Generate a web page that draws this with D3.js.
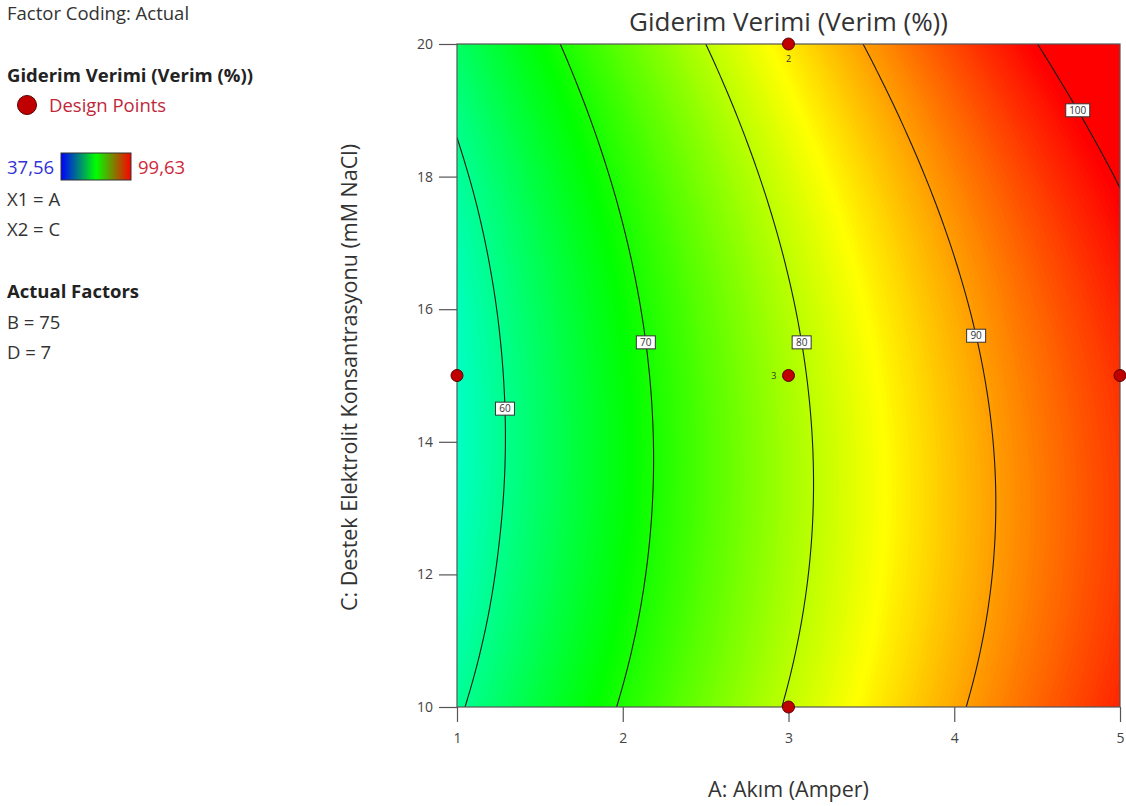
<!DOCTYPE html>
<html><head><meta charset="utf-8">
<script src="https://cdn.jsdelivr.net/npm/d3@7"></script>
<style>
body{margin:0;background:#fff;}
text{font-family:"Open Sans","Noto Sans",sans-serif;}
</style>
</head><body>
<svg id="chart" width="1126" height="806"></svg>
<script>
// ---------------- data ----------------
const aValues = [1, 2, 3, 4, 5];                                   // A: Akım (Amper)
const cValues = [10, 11.25, 12.5, 13.75, 15, 16.25, 17.5, 18.75, 20]; // C: mM NaCl
// predicted Giderim Verimi (%) — rows follow cValues, columns follow aValues
const response = [
  [59.45, 70.39, 80.38, 89.39, 97.39],
  [57.96, 69.06, 79.27, 88.40, 96.44],
  [57.06, 68.26, 78.65, 87.91, 96.01],
  [56.62, 67.97, 78.53, 87.91, 96.09],
  [56.70, 68.21, 78.91, 88.41, 96.70],
  [57.30, 68.97, 79.78, 89.41, 97.83],
  [58.47, 70.25, 81.15, 90.90, 99.48],
  [60.26, 72.05, 83.02, 92.89, 101.64],
  [62.52, 74.37, 85.38, 95.37, 104.33]
];
const contourLevels = [60, 70, 80, 90, 100];
const contourLabelC = [14.5, 15.5, 15.5, 15.6, 19.0];
const xTicks = [1, 2, 3, 4, 5];
const yTicks = [10, 12, 14, 16, 18, 20];
const designA = [1, 3, 3, 3, 5];
const designC = [15, 20, 15, 10, 15];
const designLabels = ["", "2", "3", "", ""];
const colorMin = 37.56, colorMax = 99.63;
const legendLines = ["X1 = A", "X2 = C"];
const actualFactors = ["B = 75", "D = 7"];

// ---------------- layout ----------------
const svg = d3.select("#chart");
const L = 457, R = 1120, T = 44, B = 707;
const x = d3.scaleLinear().domain([1, 5]).range([L, R]);
const y = d3.scaleLinear().domain([10, 20]).range([B, T]);
const hue = d3.scaleLinear().domain([colorMin, colorMax]).range([240, 0]).clamp(true);
const colorOf = v => d3.hsl(hue(v), 1, 0.5).toString();

// smooth (Catmull-Rom) evaluation of the response grid for rendering
function cr(p0, p1, p2, p3, t) {
  const t2 = t * t, t3 = t2 * t;
  return 0.5 * (2 * p1 + (-p0 + p2) * t + (2 * p0 - 5 * p1 + 4 * p2 - p3) * t2 + (-p0 + 3 * p1 - 3 * p2 + p3) * t3);
}
function interp1(arr, pos) {
  const n = arr.length;
  let i = Math.floor(pos); if (i > n - 2) i = n - 2; if (i < 0) i = 0;
  const t = pos - i;
  const g = k => k < 0 ? 3 * arr[0] - 3 * arr[1] + arr[2]
               : k >= n ? 3 * arr[n - 1] - 3 * arr[n - 2] + arr[n - 3] : arr[k];
  return cr(g(i - 1), g(i), g(i + 1), g(i + 2), t);
}
function surface(A, C) {
  const ia = (A - aValues[0]) / (aValues[1] - aValues[0]);
  const ic = (C - cValues[0]) / (cValues[1] - cValues[0]);
  const col = response.map(row => interp1(row, ia));
  return interp1(col, ic);
}

const nx = 221, ny = 221;
const aAt = u => 1 + (u - 0.5) * 4 / (nx - 1);
const cAt = v => 10 + (v - 0.5) * 10 / (ny - 1);
const grid = new Array(nx * ny);
for (let j = 0; j < ny; j++) {
  const C = 10 + j * 10 / (ny - 1);
  for (let i = 0; i < nx; i++) grid[j * nx + i] = surface(1 + i * 4 / (nx - 1), C);
}
const proj = d3.geoTransform({ point: function (u, v) { this.stream.point(x(aAt(u)), y(cAt(v))); } });
const path = d3.geoPath(proj);

svg.append("defs").append("clipPath").attr("id", "plotclip")
  .append("rect").attr("x", L).attr("y", T).attr("width", R - L).attr("height", B - T);

const plot = svg.append("g").attr("clip-path", "url(#plotclip)");
const vmin = d3.min(grid), vmax = d3.max(grid);
const step = 0.25;
const bandThresholds = d3.range(Math.floor(vmin) - 1, Math.ceil(vmax) + step, step);
plot.selectAll("path.band")
  .data(d3.contours().size([nx, ny]).thresholds(bandThresholds)(grid))
  .join("path").attr("class", "band")
  .attr("d", path)
  .attr("fill", d => colorOf(d.value + step / 2))
  .attr("stroke", d => colorOf(d.value + step / 2))
  .attr("stroke-width", 0.6);

plot.selectAll("path.iso")
  .data(d3.contours().size([nx, ny]).thresholds(contourLevels)(grid))
  .join("path").attr("class", "iso")
  .attr("d", path).attr("fill", "none")
  .attr("stroke", "#1a1a1a").attr("stroke-width", 1.1);

// contour labels
contourLevels.forEach((lv, k) => {
  const C = contourLabelC[k];
  let lo = 1, hi = 5;
  for (let it = 0; it < 50; it++) { const m = (lo + hi) / 2; if (surface(m, C) < lv) lo = m; else hi = m; }
  const px = x((lo + hi) / 2), py = y(C);
  const w = String(lv).length > 2 ? 24 : 19;
  const g = plot.append("g");
  g.append("rect").attr("x", px - w / 2).attr("y", py - 6.5).attr("width", w).attr("height", 13)
    .attr("fill", "#fff").attr("stroke", "#333").attr("stroke-width", 1);
  g.append("text").attr("x", px).attr("y", py + 3.5).attr("text-anchor", "middle")
    .attr("font-size", 10).attr("fill", "#333").text(lv);
});

// frame
svg.append("rect").attr("x", L).attr("y", T).attr("width", R - L).attr("height", B - T)
  .attr("fill", "none").attr("stroke", "#555").attr("stroke-width", 1.2);

// axes
const xAxis = svg.append("g").attr("transform", `translate(0,${B})`)
  .call(d3.axisBottom(x).tickValues(xTicks).tickSize(15).tickPadding(11).tickFormat(d3.format("d")));
xAxis.select(".domain").remove();
xAxis.selectAll("line").attr("stroke", "#555").attr("stroke-width", 1.2);
xAxis.selectAll("text").attr("font-size", 14).attr("fill", "#444").style("font-family", '"Open Sans",sans-serif');

const yAxis = svg.append("g").attr("transform", `translate(${L},0)`)
  .call(d3.axisLeft(y).tickValues(yTicks).tickSize(18).tickPadding(6).tickFormat(d3.format("d")));
yAxis.select(".domain").remove();
yAxis.selectAll("line").attr("stroke", "#555").attr("stroke-width", 1.2);
yAxis.selectAll("text").attr("font-size", 14).attr("fill", "#444").style("font-family", '"Open Sans",sans-serif');

// design points
svg.append("g").selectAll("circle").data(designA.map((a, i) => ({ a, c: designC[i], lab: designLabels[i] })))
  .join("circle").attr("cx", d => x(d.a)).attr("cy", d => y(d.c)).attr("r", 6)
  .attr("fill", "#c00000").attr("stroke", "#5a0000").attr("stroke-width", 1);
svg.append("text").attr("x", x(designA[1])).attr("y", y(designC[1]) + 18).attr("text-anchor", "middle")
  .attr("font-size", 9).attr("fill", "#333").text(designLabels[1]);
svg.append("text").attr("x", x(designA[2]) - 12).attr("y", y(designC[2]) + 3.5).attr("text-anchor", "end")
  .attr("font-size", 9).attr("fill", "#333").text(designLabels[2]);

// titles
svg.append("text").attr("x", (L + R) / 2).attr("y", 31).attr("text-anchor", "middle")
  .attr("font-size", 26).attr("fill", "#333").text("Giderim Verimi (Verim (%))");
svg.append("text").attr("x", (L + R) / 2).attr("y", 797).attr("text-anchor", "middle")
  .attr("font-size", 21.5).attr("fill", "#333").text("A: Akım (Amper)");
svg.append("text").attr("transform", `translate(357,${(T + B) / 2 + 2}) rotate(-90)`).attr("text-anchor", "middle")
  .attr("font-size", 21.5).attr("fill", "#333").text("C: Destek Elektrolit Konsantrasyonu (mM NaCl)");

// left legend
const fs = 18.5;
const lg = svg.append("g");
lg.append("text").attr("x", 7).attr("y", 19.5).attr("font-size", fs).attr("fill", "#333").text("Factor Coding: Actual");
lg.append("text").attr("x", 7).attr("y", 81.5).attr("font-size", fs).attr("font-weight", "bold").attr("fill", "#222").text("Giderim Verimi (Verim (%))");
lg.append("circle").attr("cx", 27).attr("cy", 105).attr("r", 9.5).attr("fill", "#c00000").attr("stroke", "#5a0000");
lg.append("text").attr("x", 49).attr("y", 111.5).attr("font-size", fs).attr("fill", "#c0283a").text("Design Points");
const grad = svg.select("defs").append("linearGradient").attr("id", "lgGrad");
grad.append("stop").attr("offset", "0%").attr("stop-color", "#0000ff");
grad.append("stop").attr("offset", "50%").attr("stop-color", "#00ff00");
grad.append("stop").attr("offset", "100%").attr("stop-color", "#ff0000");
lg.append("text").attr("x", 7).attr("y", 173.5).attr("font-size", fs).attr("fill", "#3232d8").text("37,56");
lg.append("rect").attr("x", 61).attr("y", 153).attr("width", 70).attr("height", 27)
  .attr("fill", "url(#lgGrad)").attr("stroke", "#333").attr("stroke-width", 1);
lg.append("text").attr("x", 138).attr("y", 173.5).attr("font-size", fs).attr("fill", "#d0283a").text("99,63");
legendLines.forEach((t, i) => lg.append("text").attr("x", 7).attr("y", 205.5 + i * 30).attr("font-size", fs).attr("fill", "#333").text(t));
lg.append("text").attr("x", 7).attr("y", 297.5).attr("font-size", fs).attr("font-weight", "bold").attr("fill", "#222").text("Actual Factors");
actualFactors.forEach((t, i) => lg.append("text").attr("x", 7).attr("y", 328.5 + i * 30.5).attr("font-size", fs).attr("fill", "#333").text(t));
</script>
</body></html>
